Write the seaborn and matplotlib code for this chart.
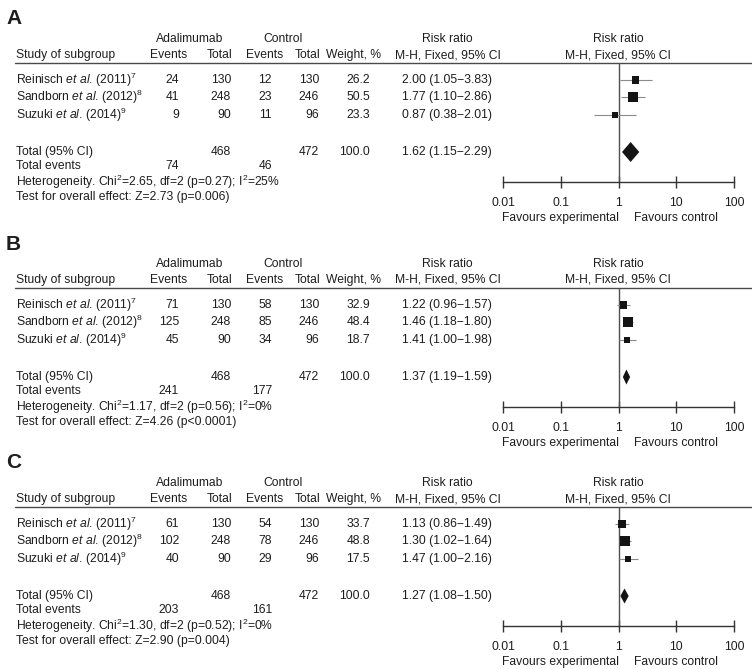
import matplotlib
matplotlib.use("Agg")
from matplotlib import pyplot as plt
import numpy as np
import pandas
import seaborn as sns

# ---- data ----
panel_letters = ["A", "B", "C"]
study_names = ["Reinisch", "Sandborn", "Suzuki"]
study_years = ["2011", "2012", "2014"]
study_refs = ["7", "8", "9"]
total_adal = [130, 248, 90]
total_ctrl = [130, 246, 96]
sum_total_adal = 468
sum_total_ctrl = 472

events_adal_a = [24, 41, 9]
events_ctrl_a = [12, 23, 11]
weight_a = [26.2, 50.5, 23.3]
rr_a = [2.00, 1.77, 0.87]
lo_a = [1.05, 1.10, 0.38]
hi_a = [3.83, 2.86, 2.01]
pooled_a = [1.62, 1.15, 2.29]
sum_events_a = [74, 46]
het_a = ["2.65", "0.27", "25"]
z_a = ["2.73", "p=0.006"]

events_adal_b = [71, 125, 45]
events_ctrl_b = [58, 85, 34]
weight_b = [32.9, 48.4, 18.7]
rr_b = [1.22, 1.46, 1.41]
lo_b = [0.96, 1.18, 1.00]
hi_b = [1.57, 1.80, 1.98]
pooled_b = [1.37, 1.19, 1.59]
sum_events_b = [241, 177]
het_b = ["1.17", "0.56", "0"]
z_b = ["4.26", "p<0.0001"]

events_adal_c = [61, 102, 40]
events_ctrl_c = [54, 78, 29]
weight_c = [33.7, 48.8, 17.5]
rr_c = [1.13, 1.30, 1.47]
lo_c = [0.86, 1.02, 1.00]
hi_c = [1.49, 1.64, 2.16]
pooled_c = [1.27, 1.08, 1.50]
sum_events_c = [203, 161]
het_c = ["1.30", "0.52", "0"]
z_c = ["2.90", "p=0.004"]

axis_ticks = [0.01, 0.1, 1, 10, 100]
axis_labels = ["0.01", "0.1", "1", "10", "100"]

panels = [
    (events_adal_a, events_ctrl_a, weight_a, rr_a, lo_a, hi_a, pooled_a, sum_events_a, het_a, z_a),
    (events_adal_b, events_ctrl_b, weight_b, rr_b, lo_b, hi_b, pooled_b, sum_events_b, het_b, z_b),
    (events_adal_c, events_ctrl_c, weight_c, rr_c, lo_c, hi_c, pooled_c, sum_events_c, het_c, z_c),
]

# ---- style ----
sns.set_style("white")
plt.rcParams['font.family'] = ['Liberation Sans', 'DejaVu Sans']
plt.rcParams['mathtext.fontset'] = 'custom'
plt.rcParams['mathtext.rm'] = 'Liberation Sans'
plt.rcParams['mathtext.it'] = 'Liberation Sans:italic'
plt.rcParams['mathtext.bf'] = 'Liberation Sans:bold'

W, H = 752, 669
fs = 8.7
txt = '#1e1e1e'
line_col = '#4a4a4a'

fig = plt.figure(figsize=(W / 100, H / 100), dpi=100)
bg = fig.add_axes([0, 0, 1, 1])
bg.set_xlim(0, W)
bg.set_ylim(H, 0)
bg.axis('off')

offsets = [0, 225, 444]
row_y = [80, 97, 115]
diamond_half = [10, 7.5, 7.5]

for p, (letter, off, data) in enumerate(zip(panel_letters, offsets, panels)):
    ev_a, ev_c, wt, rr, lo, hi, pooled, sum_ev, het, z = data

    bg.text(6, 19 + off, letter, fontsize=15, fontweight='bold', color=txt,
            family=['Liberation Sans Narrow', 'Liberation Sans'], va='center', ha='left')

    # header
    bg.text(190, 39 + off, "Adalimumab", fontsize=fs, color=txt, ha='center', va='center')
    bg.text(283, 39 + off, "Control", fontsize=fs, color=txt, ha='center', va='center')
    bg.text(447, 39 + off, "Risk ratio", fontsize=fs, color=txt, ha='center', va='center')
    bg.text(618, 39 + off, "Risk ratio", fontsize=fs, color=txt, ha='center', va='center')
    bg.text(16, 55 + off, "Study of subgroup", fontsize=fs, color=txt, ha='left', va='center')
    bg.text(187, 55 + off, "Events", fontsize=fs, color=txt, ha='right', va='center')
    bg.text(232, 55 + off, "Total", fontsize=fs, color=txt, ha='right', va='center')
    bg.text(283, 55 + off, "Events", fontsize=fs, color=txt, ha='right', va='center')
    bg.text(320, 55 + off, "Total", fontsize=fs, color=txt, ha='right', va='center')
    bg.text(381, 55 + off, "Weight, %", fontsize=fs, color=txt, ha='right', va='center')
    bg.text(448, 55 + off, "M-H, Fixed, 95% CI", fontsize=fs, color=txt, ha='center', va='center')
    bg.text(618, 55 + off, "M-H, Fixed, 95% CI", fontsize=fs, color=txt, ha='center', va='center')
    bg.plot([15, W], [63 + off, 63 + off], color=line_col, lw=1)

    # study rows
    for i in range(3):
        y = row_y[i] + off
        label = study_names[i] + r" $\mathit{et\ al}$. (" + study_years[i] + ")$^{" + study_refs[i] + "}$"
        bg.text(16, y, label, fontsize=fs, color=txt, ha='left', va='center')
        bg.text(179, y, str(ev_a[i]), fontsize=fs, color=txt, ha='right', va='center')
        bg.text(231, y, str(total_adal[i]), fontsize=fs, color=txt, ha='right', va='center')
        bg.text(272, y, str(ev_c[i]), fontsize=fs, color=txt, ha='right', va='center')
        bg.text(319, y, str(total_ctrl[i]), fontsize=fs, color=txt, ha='right', va='center')
        bg.text(370, y, f"{wt[i]:.1f}", fontsize=fs, color=txt, ha='right', va='center')
        bg.text(492, y, f"{rr[i]:.2f} ({lo[i]:.2f}\u2212{hi[i]:.2f})", fontsize=fs, color=txt,
                ha='right', va='center')

    # totals
    ty = 152 + off
    bg.text(16, ty, "Total (95% CI)", fontsize=fs, color=txt, ha='left', va='center')
    bg.text(231, ty, str(sum_total_adal), fontsize=fs, color=txt, ha='right', va='center')
    bg.text(319, ty, str(sum_total_ctrl), fontsize=fs, color=txt, ha='right', va='center')
    bg.text(370, ty, "100.0", fontsize=fs, color=txt, ha='right', va='center')
    bg.text(492, ty, f"{pooled[0]:.2f} ({pooled[1]:.2f}\u2212{pooled[2]:.2f})", fontsize=fs,
            color=txt, ha='right', va='center')
    bg.text(16, 166 + off, "Total events", fontsize=fs, color=txt, ha='left', va='center')
    bg.text(179, 166 + off, str(sum_ev[0]), fontsize=fs, color=txt, ha='right', va='center')
    bg.text(272, 166 + off, str(sum_ev[1]), fontsize=fs, color=txt, ha='right', va='center')
    bg.text(16, 182 + off, "Heterogeneity. Chi$^{2}$=" + het[0] + ", df=2 (p=" + het[1] + "); I$^{2}$=" + het[2] + "%",
            fontsize=fs, color=txt, ha='left', va='center')
    bg.text(16, 197 + off, "Test for overall effect: Z=" + z[0] + " (" + z[1] + ")",
            fontsize=fs, color=txt, ha='left', va='center')

    # forest plot
    top, bot = 63 + off, 182 + off
    ax = fig.add_axes([503 / W, 1 - bot / H, 231 / W, (bot - top) / H])
    ax.patch.set_alpha(0)
    df = pandas.DataFrame({'rr': rr, 'y': [r + off for r in row_y], 'weight': wt})
    ax.hlines(df['y'], lo, hi, color='#8a8a8a', lw=0.8, zorder=2)
    sns.scatterplot(data=df, x='rr', y='y', size='weight', sizes=(0, 100), size_norm=(0, 100),
                    marker='s', color='#141414', edgecolor='none', linewidth=0, legend=False,
                    ax=ax, zorder=3)
    h = diamond_half[p]
    ax.fill([pooled[1], pooled[0], pooled[2], pooled[0]], [ty, ty - h, ty, ty + h],
            color='#141414', lw=0, zorder=3)
    ax.axvline(1, color='#505050', lw=1, zorder=1)
    ax.set_xscale('log')
    ax.set_xlim(0.01, 100)
    ax.set_ylim(bot, top)
    ax.set_xlabel('')
    ax.set_ylabel('')
    ax.set_yticks([])
    ax.set_xticks(axis_ticks, labels=axis_labels)
    ax.minorticks_off()
    ax.tick_params(axis='x', direction='inout', length=9, width=1, color='#333333',
                   labelsize=fs, labelcolor=txt, pad=6, bottom=True)
    for s in ['top', 'left', 'right']:
        ax.spines[s].set_visible(False)
    ax.spines['bottom'].set_color('#333333')
    ax.spines['bottom'].set_linewidth(1)
    ax.text(0.1, 218 + off, "Favours experimental", fontsize=fs, color=txt, ha='center', va='center')
    ax.text(10, 218 + off, "Favours control", fontsize=fs, color=txt, ha='center', va='center')

fig.savefig("out.png", dpi=100)
